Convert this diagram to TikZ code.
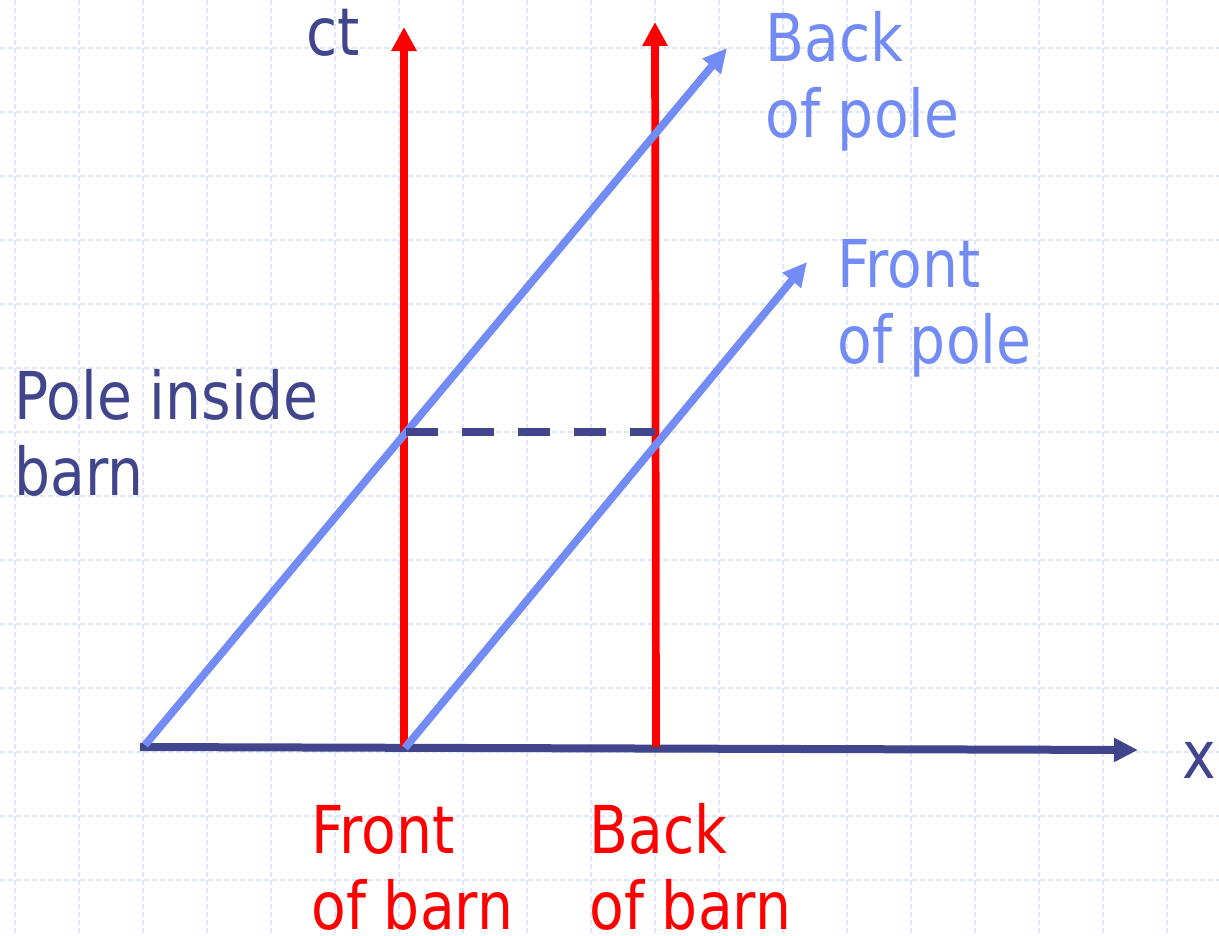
\documentclass[tikz,border=0pt]{standalone}
\usepackage{fontspec}
\setmainfont{DejaVu Sans}[FakeStretch=0.86]
\usetikzlibrary{arrows.meta}
\definecolor{axiscol}{RGB}{64,69,140}
\definecolor{polecol}{RGB}{115,140,245}
\definecolor{barncol}{RGB}{255,0,0}
\definecolor{gridcol}{RGB}{222,230,252}
\tikzset{
  gridline/.style={draw=gridcol, line width=1pt, dash pattern=on 4pt off 2pt},
  axisline/.style={draw=axiscol, line width=6pt, -{Triangle[length=18pt,width=17pt]}},
  barnline/.style={draw=barncol, line width=5.8pt, -{Triangle[length=18pt,width=18pt]}},
  poleline/.style={draw=polecol, line width=5.8pt, -{Triangle[length=18pt,width=17pt]}},
  dashline/.style={draw=axiscol, line width=6pt, dash pattern=on 24pt off 18pt},
  lbl/.style={inner sep=0pt, anchor=base west, font=\fontsize{49.5}{57}\selectfont, align=left},
}
\begin{document}
\begin{tikzpicture}[x=0.75pt,y=-0.75pt]
\useasboundingbox (0,0) rectangle (1219,935);
% grid
\foreach \i in {0,...,18} { \draw[gridline] (15+64*\i,0) -- (15+64*\i,935); }
\foreach \j in {0,...,13} { \draw[gridline] (0,48+64*\j) -- (1219,48+64*\j); }
% coordinates
\coordinate (O) at (140,747);
\coordinate (X) at (1138,750);
\coordinate (FB0) at (404,747);
\coordinate (FB1) at (404,27);
\coordinate (BB0) at (656,747);
\coordinate (BB1) at (655,22);
\coordinate (BP0) at (145,745);
\coordinate (BP1) at (727,48);
\coordinate (FP0) at (405,748);
\coordinate (FP1) at (807,262);
\coordinate (D0) at (406,432);
\coordinate (D1) at (655,432);
% lines
\draw[axisline] (O) -- (X);
\draw[barnline] (FB0) -- (FB1);
\draw[barnline] (BB0) -- (BB1);
\draw[poleline] (BP0) -- (BP1);
\draw[poleline] (FP0) -- (FP1);
\draw[dashline] (D0) -- (D1);
% labels (anchor at baseline of last line)
\node[lbl, text=axiscol] (ct) at (306,55) {ct};
\node[lbl, text=axiscol] (x) at (1182,778) {x};
\node[lbl, text=polecol] (bp) at (765,137) {Back\\of pole};
\node[lbl, text=polecol] (fp) at (837,363) {Front\\of pole};
\node[lbl, text=axiscol] (pib) at (14,495) {Pole inside\\barn};
\node[lbl, text=barncol] (fb) at (311,929) {Front\\of barn};
\node[lbl, text=barncol] (bb) at (589,929) {Back\\of barn};
\end{tikzpicture}
\end{document}
